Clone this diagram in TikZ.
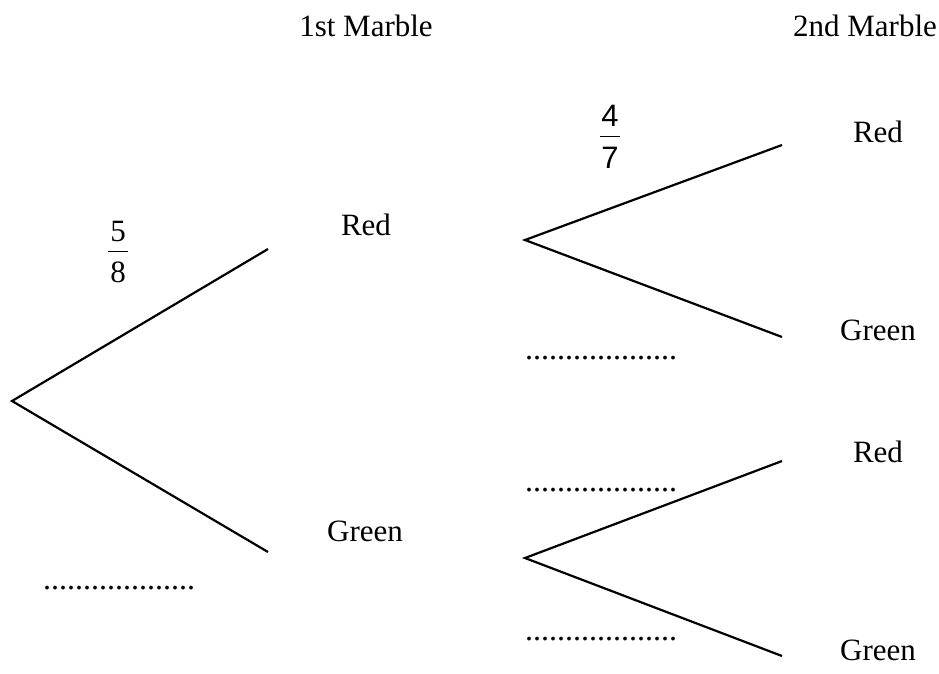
\documentclass[tikz,border=0pt]{standalone}
\usepackage{fontspec}
\setmainfont{Liberation Serif}
\setsansfont{Liberation Sans}
\newcommand{\frc}[2]{\vbox{\offinterlineskip\halign{\hfil##\hfil\cr
  #1\cr\noalign{\kern9pt}\rule{20pt}{1.4pt}\cr\noalign{\kern10pt}#2\cr}}}
\begin{document}
\begin{tikzpicture}[x=1pt,y=-1pt]
\tikzstyle{every node}+=[inner sep=0pt,font=\fontsize{31}{34}\selectfont]
\tikzstyle{branch}=[line width=2.2pt,line join=miter]
\tikzstyle{blank}=[anchor=base west,font=\fontsize{32}{32}\selectfont]
\useasboundingbox (0,0) rectangle (939,673);
% headings
\node (h1) at (366,26) {1st Marble};
\node (h2) at (865,26) {2nd Marble};
% first marble
\coordinate (s) at (12,401);
\coordinate (r) at (268,249);
\coordinate (g) at (268,552);
\draw [branch] (r) -- (s) -- (g);
\node (lr) at (366,225) {Red};
\node (lg) at (365,531) {Green};
\node (p1) at (118,252) {\frc{5}{8}};
\node [blank] (q1) at (43,589) {...................};
% second marble, after red
\coordinate (rs) at (525,240);
\coordinate (rr) at (782,145);
\coordinate (rg) at (782,337);
\draw [branch] (rr) -- (rs) -- (rg);
\node (lrr) at (878,132) {Red};
\node (lrg) at (878,330) {Green};
\node (p2) at (610,137) {\sffamily\frc{4}{7}};
\node [blank] (q2) at (525,359) {...................};
% second marble, after green
\coordinate (gs) at (525,558);
\coordinate (gr) at (782,461);
\coordinate (gg) at (782,656);
\draw [branch] (gr) -- (gs) -- (gg);
\node (lgr) at (878,452) {Red};
\node (lgg) at (878,650) {Green};
\node [blank] (q3) at (525,491) {...................};
\node [blank] (q4) at (525,640) {...................};
\end{tikzpicture}
\end{document}
